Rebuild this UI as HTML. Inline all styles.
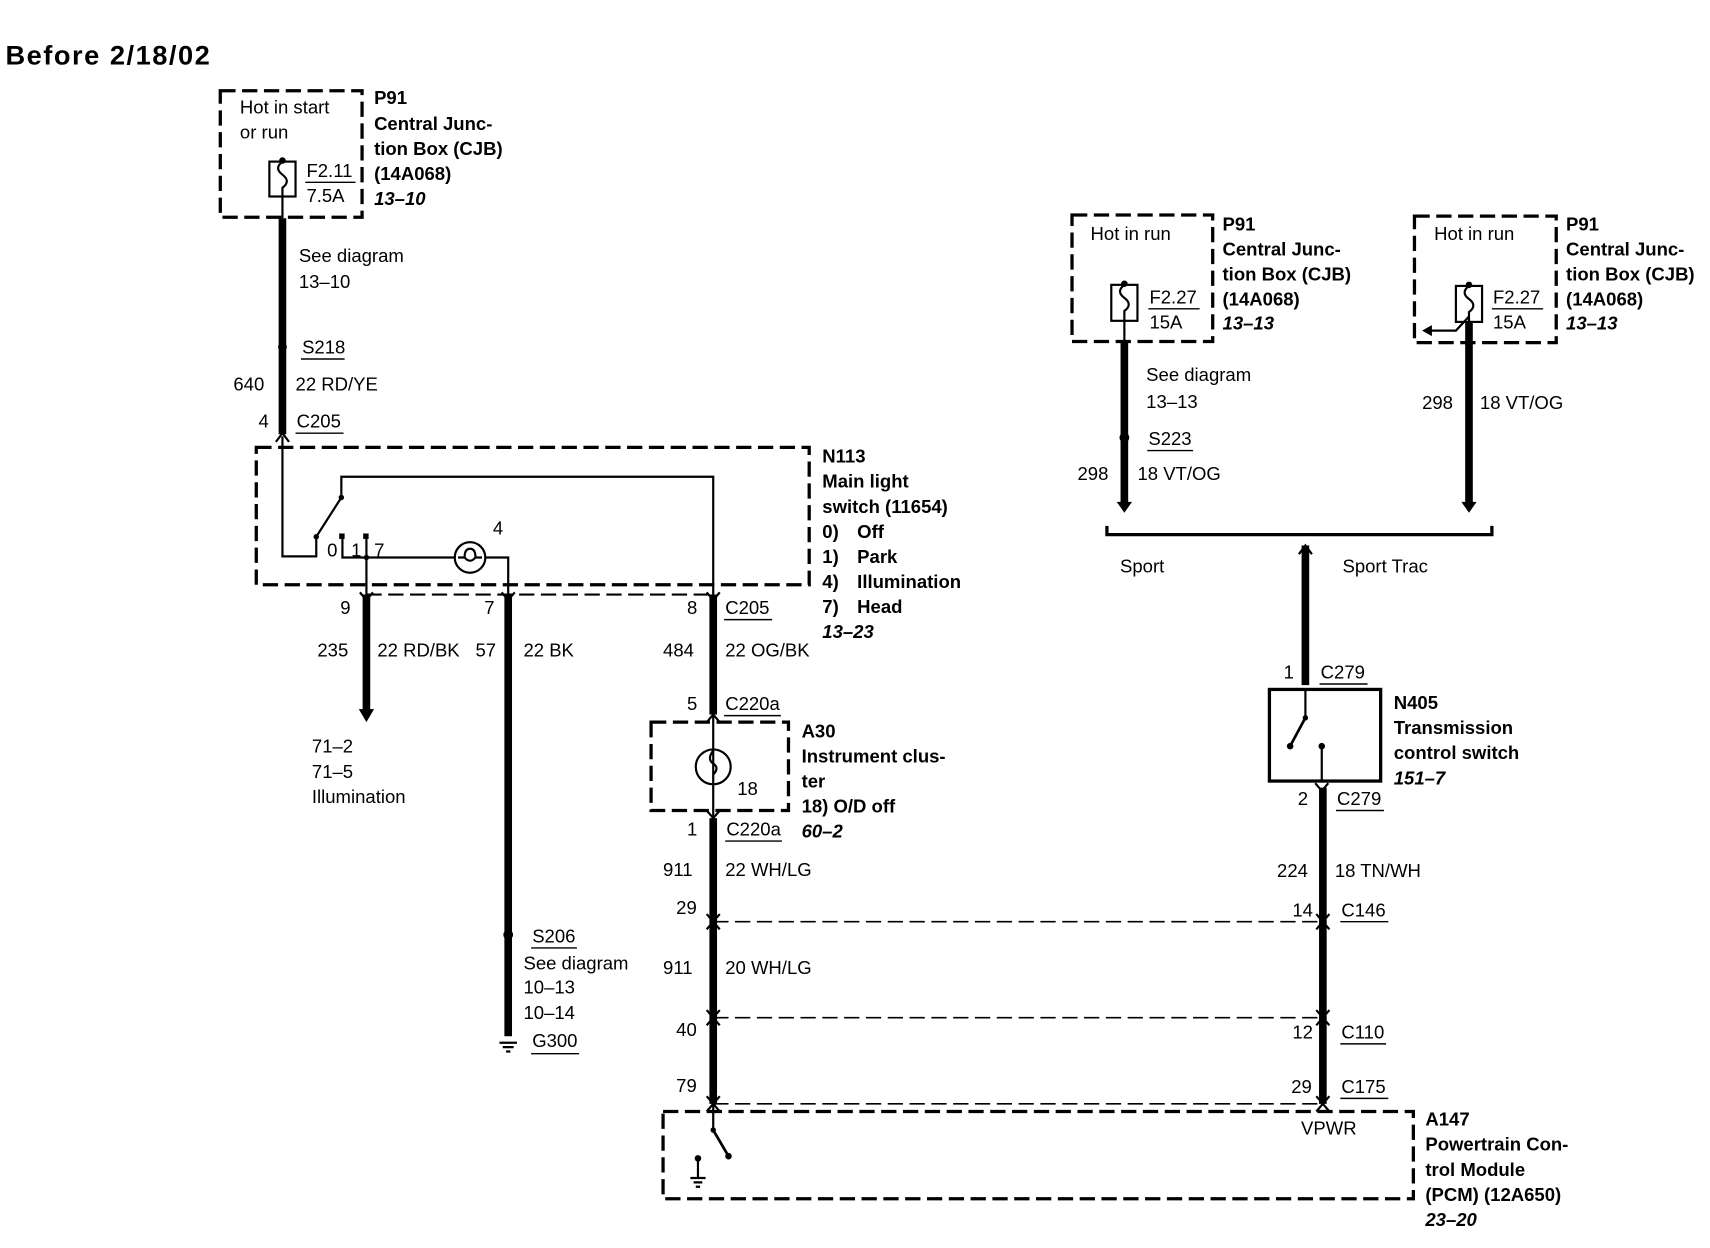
<!DOCTYPE html>
<html><head><meta charset="utf-8"><style>
html,body{margin:0;padding:0;background:#fff;}
svg{display:block;}
text{font-family:"Liberation Sans",Arial,sans-serif;font-size:17px;fill:#000;}
.b{font-weight:bold;}
.i{font-weight:bold;font-style:italic;}
.d{fill:none;stroke:#000;stroke-width:3;stroke-dasharray:14,6;}
.w{stroke:#000;stroke-width:7;fill:none;}
.t{stroke:#000;stroke-width:2;fill:none;}
.u{stroke:#000;stroke-width:1.3;}
</style></head><body>
<svg width="1710" height="1248" viewBox="0 0 1568 1144" xmlns="http://www.w3.org/2000/svg">
<text x="5" y="59" class="b" style="font-size:25px;letter-spacing:0.6px" textLength="188">Before 2/18/02</text>

<!-- Box1 fuse -->
<rect x="202" y="83" width="130" height="116" class="d"/>
<text x="220" y="104">Hot in start</text><text x="220" y="127">or run</text>
<rect x="247" y="148" width="24" height="32" class="t"/>
<path d="M259 148 q-8 6 0 12 q8 6 0 12 l0 8" class="t"/>
<circle cx="259" cy="147" r="3"/>
<text x="281" y="162">F2.11</text><line x1="280" y1="167" x2="326" y2="167" class="u"/><text x="281" y="185">7.5A</text>
<line x1="259" y1="180" x2="259" y2="200" class="t"/>
<text x="343" y="95" class="b">P91</text><text x="343" y="119" class="b">Central Junc-</text><text x="343" y="142" class="b">tion Box (CJB)</text><text x="343" y="165" class="b">(14A068)</text><text x="343" y="188" class="i">13–10</text>

<line x1="259" y1="200" x2="259" y2="398" class="w"/>
<circle cx="259" cy="318" r="4"/>
<text x="274" y="240">See diagram</text><text x="274" y="264">13–10</text>
<text x="277" y="324">S218</text><line x1="276" y1="329" x2="316" y2="329" class="u"/>
<text x="214" y="358">640</text><text x="271" y="358">22 RD/YE</text>
<text x="237" y="392">4</text><text x="272" y="392">C205</text><line x1="271" y1="397" x2="315" y2="397" class="u"/>
<path d="M253 405 L259 397 L265 405" class="t"/>

<!-- N113 -->
<rect x="235" y="410" width="507" height="126" class="d"/>
<polyline points="259,400 259,510 290,510 290,492" class="t"/>
<line x1="290" y1="492" x2="313" y2="456" class="t"/>
<circle cx="290" cy="492" r="2.5"/><circle cx="313" cy="456" r="2.5"/>
<polyline points="313,456 313,437 654,437 654,545" class="t"/>
<polyline points="314,491 314,511 417,511" class="t"/>
<rect x="311" y="489" width="5" height="5"/><rect x="333" y="489" width="5" height="5"/>
<line x1="336" y1="491" x2="336" y2="545" class="t"/>
<circle cx="336" cy="511" r="2.5"/>
<circle cx="431" cy="511" r="14" class="t"/>
<path d="M420 511 h6 q0 -8 5 -8 q5 0 5 8 h6 M426 511 q5 6 10 0" class="t"/>
<polyline points="445,511 466,511 466,545" class="t"/>
<text x="300" y="510">0</text><text x="322" y="510">1</text><text x="343" y="510">7</text>
<text x="452" y="490">4</text>
<line x1="336" y1="545" x2="654" y2="545" class="d" style="stroke-width:2"/>
<text x="754" y="424" class="b">N113</text><text x="754" y="447" class="b">Main light</text><text x="754" y="470" class="b">switch (11654)</text>
<text x="754" y="493" class="b">0)</text><text x="786" y="493" class="b">Off</text>
<text x="754" y="516" class="b">1)</text><text x="786" y="516" class="b">Park</text>
<text x="754" y="539" class="b">4)</text><text x="786" y="539" class="b">Illumination</text>
<text x="754" y="562" class="b">7)</text><text x="786" y="562" class="b">Head</text>
<text x="754" y="585" class="i">13–23</text>

<!-- pin 9 -->
<line x1="336" y1="545" x2="336" y2="652" class="w"/>
<path d="M329 650 L343 650 L336 662 Z"/>
<path d="M330 543 L336 550 L342 543 M460 543 L466 550 L472 543 M648 543 L654 550 L660 543" class="t"/>
<text x="312" y="563">9</text><text x="291" y="602">235</text><text x="346" y="602">22 RD/BK</text>
<text x="286" y="690">71–2</text><text x="286" y="713">71–5</text><text x="286" y="736">Illumination</text>
<!-- pin 7 -->
<line x1="466" y1="545" x2="466" y2="950" class="w"/>
<circle cx="466" cy="857" r="4.5"/>
<text x="444" y="563">7</text><text x="436" y="602">57</text><text x="480" y="602">22 BK</text>
<text x="488" y="864">S206</text><line x1="487" y1="869" x2="529" y2="869" class="u"/>
<text x="480" y="889">See diagram</text><text x="480" y="911">10–13</text><text x="480" y="934">10–14</text>
<path d="M458 956 h16 M461 960 h10 M464 964 h4" class="t"/>
<text x="488" y="960">G300</text><line x1="487" y1="966" x2="531" y2="966" class="u"/>
<!-- pin 8 -->
<line x1="654" y1="545" x2="654" y2="655" class="w"/>
<text x="630" y="563">8</text><text x="665" y="563">C205</text><line x1="664" y1="568" x2="708" y2="568" class="u"/>
<text x="608" y="602">484</text><text x="665" y="602">22 OG/BK</text>
<text x="630" y="651">5</text><text x="665" y="651">C220a</text><line x1="664" y1="656" x2="716" y2="656" class="u"/>
<path d="M648 662 L654 655 L660 662" class="t"/>

<!-- A30 -->
<rect x="597" y="662" width="126" height="81" class="d"/>
<line x1="654" y1="655" x2="654" y2="750" class="t"/>
<circle cx="654" cy="703" r="16" class="t"/>
<path d="M654 688 q-6 8 0 12 q6 4 0 10" class="t"/>
<text x="676" y="729">18</text>
<text x="735" y="676" class="b">A30</text><text x="735" y="699" class="b">Instrument clus-</text><text x="735" y="722" class="b">ter</text><text x="735" y="745" class="b">18) O/D off</text><text x="735" y="768" class="i">60–2</text>
<path d="M648 743 L654 750 L660 743" class="t"/>
<line x1="654" y1="750" x2="654" y2="1012" class="w"/>
<text x="630" y="766">1</text><text x="666" y="766">C220a</text><line x1="665" y1="771" x2="717" y2="771" class="u"/>
<text x="608" y="803">911</text><text x="665" y="803">22 WH/LG</text>
<text x="620" y="838">29</text>
<text x="608" y="893">911</text><text x="665" y="893">20 WH/LG</text>
<text x="620" y="950">40</text>
<text x="620" y="1001">79</text>
<line x1="654" y1="845" x2="1213" y2="845" class="d" style="stroke-width:1.5"/>
<line x1="654" y1="933" x2="1213" y2="933" class="d" style="stroke-width:1.5"/>
<line x1="654" y1="1012" x2="1213" y2="1012" class="d" style="stroke-width:1.5"/>
<path d="M648 838 L654 845 L660 838 M648 852 L654 845 L660 852 M648 926 L654 933 L660 926 M648 940 L654 933 L660 940 M648 1005 L654 1012 L660 1005 M648 1019 L654 1012 L660 1019" class="t"/>
<path d="M1207 838 L1213 845 L1219 838 M1207 852 L1213 845 L1219 852 M1207 926 L1213 933 L1219 926 M1207 940 L1213 933 L1219 940 M1207 1005 L1213 1012 L1219 1005 M1207 1019 L1213 1012 L1219 1019" class="t"/>

<!-- PCM -->
<rect x="608" y="1019" width="688" height="80" class="d"/>
<line x1="654" y1="1012" x2="654" y2="1036" class="t"/>
<line x1="654" y1="1036" x2="668" y2="1060" class="t" style="stroke-width:2.5"/>
<circle cx="654" cy="1036" r="2.5"/><circle cx="668" cy="1060" r="3"/>
<line x1="640" y1="1062" x2="640" y2="1080" class="t"/><circle cx="640" cy="1062" r="3"/>
<path d="M633 1080 h14 M636 1084 h8 M638 1088 h4" class="t"/>
<text x="1193" y="1040">VPWR</text>
<text x="1307" y="1032" class="b">A147</text><text x="1307" y="1055" class="b">Powertrain Con-</text><text x="1307" y="1078" class="b">trol Module</text><text x="1307" y="1101" class="b">(PCM) (12A650)</text><text x="1307" y="1124" class="i">23–20</text>

<!-- Box2 -->
<rect x="983" y="197" width="129" height="116" class="d"/>
<text x="1000" y="220">Hot in run</text>
<rect x="1019" y="261" width="24" height="33" class="t"/>
<path d="M1031 261 q-8 6 0 12 q8 6 0 12 l0 9" class="t"/><circle cx="1031" cy="260" r="3"/>
<text x="1054" y="278">F2.27</text><line x1="1053" y1="283" x2="1100" y2="283" class="u"/><text x="1054" y="301">15A</text>
<text x="1121" y="211" class="b">P91</text><text x="1121" y="234" class="b">Central Junc-</text><text x="1121" y="257" class="b">tion Box (CJB)</text><text x="1121" y="280" class="b">(14A068)</text><text x="1121" y="302" class="i">13–13</text>
<line x1="1031" y1="294" x2="1031" y2="313" class="t"/>
<line x1="1031" y1="313" x2="1031" y2="463" class="w"/>
<path d="M1024 460 L1038 460 L1031 470 Z"/>
<circle cx="1031" cy="401" r="4.5"/>
<text x="1051" y="349">See diagram</text><text x="1051" y="374">13–13</text>
<text x="1053" y="408">S223</text><line x1="1052" y1="413" x2="1094" y2="413" class="u"/>
<text x="988" y="440">298</text><text x="1043" y="440">18 VT/OG</text>

<!-- Box3 -->
<rect x="1297" y="198" width="130" height="116" class="d"/>
<text x="1315" y="220">Hot in run</text>
<rect x="1335" y="262" width="24" height="33" class="t"/>
<path d="M1347 262 q-8 6 0 12 q8 6 0 12 l0 9" class="t"/><circle cx="1347" cy="261" r="3"/>
<text x="1369" y="278">F2.27</text><line x1="1368" y1="283" x2="1415" y2="283" class="u"/><text x="1369" y="301">15A</text>
<polyline points="1347,290 1335,303 1312,303" class="t"/>
<path d="M1304 303 L1313 298 L1313 308 Z"/>
<text x="1436" y="211" class="b">P91</text><text x="1436" y="234" class="b">Central Junc-</text><text x="1436" y="257" class="b">tion Box (CJB)</text><text x="1436" y="280" class="b">(14A068)</text><text x="1436" y="302" class="i">13–13</text>
<line x1="1347" y1="295" x2="1347" y2="463" class="w"/>
<path d="M1340 460 L1354 460 L1347 470 Z"/>
<text x="1304" y="375">298</text><text x="1357" y="375">18 VT/OG</text>

<!-- Splice -->
<polyline points="1015,482 1015,490 1368,490 1368,482" class="t" style="stroke-width:3"/>
<line x1="1197" y1="500" x2="1197" y2="628" class="w"/>
<path d="M1191 508 L1197 500 L1203 508" class="t"/>
<text x="1027" y="525">Sport</text><text x="1231" y="525">Sport Trac</text>
<text x="1177" y="622">1</text><text x="1211" y="622">C279</text><line x1="1210" y1="627" x2="1254" y2="627" class="u"/>
<rect x="1164" y="632" width="102" height="84" class="t" style="stroke-width:3"/>
<line x1="1197" y1="632" x2="1197" y2="658" class="t"/>
<line x1="1197" y1="658" x2="1183" y2="684" class="t" style="stroke-width:2.5"/>
<circle cx="1197" cy="658" r="2.5"/><circle cx="1183" cy="684" r="3"/>
<circle cx="1212" cy="684" r="3"/><line x1="1212" y1="684" x2="1212" y2="716" class="t"/>
<text x="1278" y="650" class="b">N405</text><text x="1278" y="673" class="b">Transmission</text><text x="1278" y="696" class="b">control switch</text><text x="1278" y="719" class="i">151–7</text>
<path d="M1206 718 L1212 725 L1218 718" class="t"/>
<line x1="1213" y1="722" x2="1213" y2="1012" class="w"/>
<text x="1190" y="738">2</text><text x="1226" y="738">C279</text><line x1="1225" y1="743" x2="1269" y2="743" class="u"/>
<text x="1171" y="804">224</text><text x="1224" y="804">18 TN/WH</text>
<text x="1185" y="840">14</text><text x="1230" y="840">C146</text><line x1="1229" y1="845" x2="1273" y2="845" class="u"/>
<text x="1185" y="952">12</text><text x="1230" y="952">C110</text><line x1="1229" y1="957" x2="1271" y2="957" class="u"/>
<text x="1184" y="1002">29</text><text x="1230" y="1002">C175</text><line x1="1229" y1="1007" x2="1273" y2="1007" class="u"/>
</svg>
</body></html>
